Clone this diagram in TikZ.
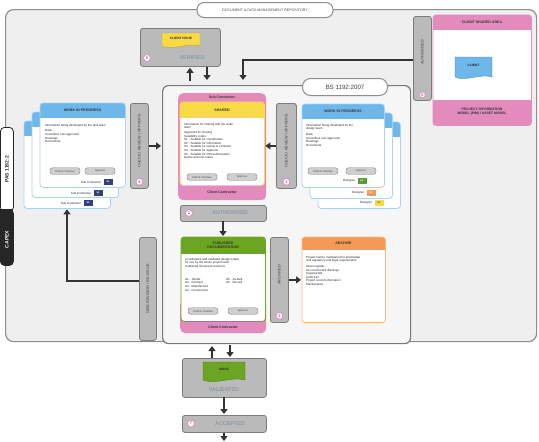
\documentclass[tikz,border=0pt]{standalone}
\usepackage{fontspec}
\setmainfont{Liberation Sans}
\usetikzlibrary{arrows.meta,calc}

\definecolor{bgrey}{HTML}{EFEFEF}
\definecolor{edge}{HTML}{8E8E8E}
\definecolor{pinkh}{HTML}{E48BBE}
\definecolor{yellowh}{HTML}{F7DA45}
\definecolor{blueh}{HTML}{6DB7EA}
\definecolor{bluel}{HTML}{A9D3F2}
\definecolor{greenh}{HTML}{6CA424}
\definecolor{orangeh}{HTML}{F59A55}
\definecolor{barfill}{HTML}{BABABA}
\definecolor{bardraw}{HTML}{7C7C7C}
\definecolor{arrowc}{HTML}{333333}
\definecolor{navy}{HTML}{34407C}
\definecolor{gatetext}{HTML}{8C98A4}

% card: name, x, y, width, height, border colour, header colour, header height
\newcommand\card[8]{%
  \node[anchor=north west, minimum width=#4pt, minimum height=#5pt, fill=white,
        rounded corners=3pt, inner sep=0pt] (#1) at (#2,#3) {};
  \begin{scope}
    \clip[rounded corners=3pt] (#1.north west) rectangle (#1.south east);
    \fill[#7] (#1.north west) rectangle ($(#1.north east)+(0,#8)$);
  \end{scope}
  \draw[#6, line width=0.8pt, rounded corners=3pt] (#1.north west) rectangle (#1.south east);}

% document tag with a wavy lower edge: x, y, width, height, colour, text
\newcommand\doctag[6]{%
  \fill[#5, draw=#5!75!black, line width=0.4pt] (#1,#2) -- ++(#3,0) -- ++(0,#4)
    .. controls +(-#3*0.3,-4) and +(#3*0.3,5) .. ++(-#3,0) -- cycle;
  \node[tiny, font=\fontsize{3.2}{3.2}\selectfont\bfseries] at ({#1+#3/2},{#2+#4*0.4}) {#6};}

\begin{document}
\begin{tikzpicture}[x=1pt, y=-1pt,
  tiny/.style={font=\fontsize{3}{3.6}\selectfont, text=black!85, inner sep=0pt},
  hdr/.style={font=\fontsize{3.6}{4.2}\selectfont\bfseries, text=black!80, inner sep=0pt, align=center},
  bar/.style={draw=bardraw, fill=barfill, rounded corners=2.5pt, line width=0.8pt, inner sep=0pt},
  bartext/.style={font=\fontsize{3.8}{4}\selectfont\bfseries, text=black!60, rotate=90, inner sep=0pt},
  bigtext/.style={font=\fontsize{5.4}{6}\selectfont\bfseries, text=gatetext, inner sep=0pt},
  btn/.style={draw=bardraw, fill=barfill!70, rounded corners=2.5pt, minimum width=30pt,
              minimum height=6.5pt, inner sep=0pt, font=\fontsize{2.8}{3}\selectfont, text=black!70},
  num/.style={circle, draw=pinkh, fill=white, line width=0.8pt, minimum size=7pt, inner sep=0pt,
              font=\fontsize{4}{4}\selectfont\bfseries, text=pinkh!70!black},
  chip/.style={minimum width=9pt, minimum height=5.5pt, inner sep=0pt,
               font=\fontsize{2.4}{3}\selectfont\bfseries, text=white},
  flow/.style={draw=arrowc, line width=2.6pt, -{Triangle[length=5pt,width=7pt]}, shorten >=1pt}]
\useasboundingbox (0,0) rectangle (539,442);

% repository frame and its title
\node[draw=edge, fill=bgrey, rounded corners=8pt, line width=1.2pt, anchor=north west,
      minimum width=531pt, minimum height=332pt, inner sep=0pt] (repo) at (5,9) {};
\node[draw=edge, fill=white, rounded corners=7pt, line width=1pt, minimum width=136pt,
      minimum height=15pt, inner sep=0pt, font=\fontsize{3.6}{4}\selectfont, text=black!70]
      (title) at (265,10) {DOCUMENT \& DATA MANAGEMENT REPOSITORY};

% side label
\node[anchor=north west, fill=white, draw=black!85, rounded corners=4pt, line width=0.8pt,
      minimum width=13pt, minimum height=84pt, inner sep=0pt] (pas) at (0,127) {};
\node[anchor=north west, fill=black!85, draw=black!85, rounded corners=4pt, line width=0.8pt,
      minimum width=13pt, minimum height=56pt, inner sep=0pt] (capex) at (0,209) {};
\fill[black!85] (0,209) rectangle (13,214);
\node[rotate=90, font=\fontsize{5}{5}\selectfont\bfseries, text=black!85] at (pas.center) {PAS 1192:2};
\node[rotate=90, font=\fontsize{5}{5}\selectfont\bfseries, text=white] at ($(capex.center)+(0,2)$) {CAPEX};

% BS 1192 area
\node[draw=edge!85!black, fill=bgrey!55!white, rounded corners=6pt, line width=1.2pt, anchor=north west,
      minimum width=248pt, minimum height=258pt, inner sep=0pt] (bs) at (162,85) {};
\node[draw=edge, fill=white, rounded corners=8pt, line width=1pt, minimum width=85pt,
      minimum height=17pt, inner sep=0pt, font=\fontsize{6.2}{6.2}\selectfont, text=black!75]
      (bslabel) at (345,87) {BS 1192:2007};

% verified gate
\node[bar, anchor=north west, minimum width=80pt, minimum height=38pt] (verified) at (140,28) {};
\doctag{162}{33}{38}{13}{yellowh}{CLIENT ISSUE}
\node[bigtext] at (192,58) {VERIFIED};
\node[num] at (147,58) {5};

% client shared area
\node[bar, anchor=north west, minimum width=18pt, minimum height=84pt] (rauth) at (413,16) {};
\node[bartext] at ($(rauth.center)+(0,-6)$) {AUTHORISED};
\node[num, minimum size=6pt] at ($(rauth.south)+(0,-6)$) {6};
\card{client}{433}{15}{98}{110}{pinkh}{pinkh}{15}
\begin{scope}
  \clip[rounded corners=3pt] (client.north west) rectangle (client.south east);
  \fill[pinkh] (433,100) rectangle (531,126);
\end{scope}
\node[hdr] at (482,22) {CLIENT SHARED AREA};
\node[hdr, font=\fontsize{3.4}{4}\selectfont\bfseries] at (482,112) {PROJECT INFORMATION\\MODEL (PIM) / ASSET MODEL};
\doctag{455}{57}{37}{20}{blueh}{CLIENT}

% work in progress, left team
\card{wipLc}{24}{121}{86}{87}{bluel}{blueh}{15}
\card{wipLb}{32}{112}{86}{85}{bluel}{blueh}{15}
\card{wipLa}{40}{103}{85}{84}{bluel}{blueh}{15}
\node[hdr] at (82.5,110.5) {WORK IN PROGRESS};
\node[tiny, anchor=north west, align=left] at (45,124) {Information being developed by the task team\\[2pt]Data:\\Unverified, non-approved\\Drawings\\Documents};
\node[btn] at (65,171) {Check / Review};
\node[btn] at (100,171) {Approve};
\node[chip, fill=navy] (sc1) at (108,182) {S1};
\node[tiny, anchor=east] at ($(sc1.west)+(-2,0)$) {Sub Contractor};
\node[chip, fill=navy] (sc2) at (98,193) {S2};
\node[tiny, anchor=east] at ($(sc2.west)+(-2,0)$) {Sub Contractor};
\node[chip, fill=navy] (sc3) at (88,203) {S3};
\node[tiny, anchor=east] at ($(sc3.west)+(-2,0)$) {Sub Contractor};

\node[bar, anchor=north west, minimum width=18pt, minimum height=85pt] (lbar) at (130,103) {};
\node[bartext] at ($(lbar.center)+(0,-5)$) {CHECK / REVIEW / APPROVE};
\node[num] at ($(lbar.south)+(0,-7)$) {4};

% shared
\node[anchor=north west, fill=pinkh, rounded corners=5pt, minimum width=88pt, minimum height=107pt,
      inner sep=0pt] (sharedbg) at (178,93) {};
\card{shared}{180}{102}{84}{83}{yellowh}{yellowh}{16}
\node[hdr] at (222,97.5) {Sub Contractor};
\node[hdr] at (222,110) {SHARED};
\node[hdr] at (222,192.5) {Client Contractor};
\node[tiny, anchor=north west, align=left] at (184,123) {Information for sharing with the wider\\team\\[1pt]Approved for sharing\\Suitability codes:\\S1 - Suitable for coordination\\S2 - Suitable for information\\S3 - Suitable for review \& comment\\S4 - Suitable for approval\\S5 - Suitable for PIM authorization\\Native and non-native};
\node[btn] at (202,177) {Check / Review};
\node[btn] at (242,177) {Approve};

\node[bar, anchor=north west, minimum width=20pt, minimum height=85pt] (mbar) at (276,103) {};
\node[bartext] at ($(mbar.center)+(0,-5)$) {CHECK / REVIEW / APPROVE};
\node[num] at ($(mbar.south)+(0,-7)$) {1};

% work in progress, right team
\card{wipRc}{318}{122}{82}{86}{bluel}{blueh}{15}
\card{wipRb}{310}{113}{82}{85}{bluel}{blueh}{15}
\card{wipRa}{302}{104}{82}{83}{bluel}{blueh}{15}
\node[hdr] at (343,111.5) {WORK IN PROGRESS};
\node[tiny, anchor=north west, align=left] at (306,124) {Information being developed by the\\design team\\[2pt]Data:\\Unverified, non-approved\\Drawings\\Documents};
\node[btn] at (323,171) {Check / Review};
\node[btn] at (361,171) {Approve};
\node[chip, fill=greenh!80!teal] (d1) at (362,181) {D1};
\node[tiny, anchor=east] at ($(d1.west)+(-2,0)$) {Designer};
\node[chip, fill=orangeh] (d2) at (371,193) {D2};
\node[tiny, anchor=east] at ($(d2.west)+(-2,0)$) {Designer};
\node[chip, fill=yellowh, text=black!70] (d3) at (379,203) {D3};
\node[tiny, anchor=east] at ($(d3.west)+(-2,0)$) {Designer};

% authorised gate
\node[bar, anchor=north west, minimum width=86pt, minimum height=16pt] (auth) at (180,205) {};
\node[bigtext] at (230,213) {AUTHORISED};
\node[num] at (189,213) {2};

% published documentation
\node[anchor=north west, fill=pinkh, rounded corners=5pt, minimum width=86pt, minimum height=33pt,
      inner sep=0pt] (pubbg) at (180,300) {};
\card{pub}{181}{237}{84}{84}{greenh}{greenh}{17}
\node[hdr] at (223,245.5) {PUBLISHED\\DOCUMENTATION};
\node[hdr] at (223,327) {Client Contractor};
\node[tiny, anchor=north west, align=left] at (185,258) {Coordinated and validated design output\\for use by the whole project team\\Published document revisions};
\node[tiny, anchor=north west, align=left] at (185,278) {A1 - Tender\\A2 - Contract\\A3 - Manufacture\\A4 - Construction};
\node[tiny, anchor=north west, align=left] at (226,278) {A5 - As-built\\A6 - Record};
\node[btn] at (203,311) {Check / Review};
\node[btn] at (243,311) {Approve};

\node[bar, anchor=north west, minimum width=18pt, minimum height=85pt] (pbar) at (270,237) {};
\node[bartext] at ($(pbar.center)+(0,-5)$) {ARCHIVED};
\node[num] at ($(pbar.south)+(0,-7)$) {3};

% archive
\card{arch}{302}{237}{83}{85}{orangeh!70}{orangeh}{13}
\node[hdr] at (343.5,243.5) {ARCHIVE};
\node[tiny, anchor=north west, align=left] at (306,256) {Project history maintained for knowledge\\and regulatory and legal requirements\\[2pt]Asset register\\As-constructed drawings\\Superseded\\Audit trail\\Project record information\\Maintenance};

% revision loop bar
\node[bar, anchor=north west, minimum width=17pt, minimum height=103pt] (longbar) at (139,237) {};
\node[bartext] at (longbar.center) {NEW REVISION / RE-ISSUE};

% validated and accepted gates
\node[bar, anchor=north west, minimum width=84pt, minimum height=39pt] (valid) at (182,358) {};
\doctag{203}{362}{42}{18}{greenh}{ISSUE}
\node[bigtext] at (224,390) {VALIDATED};
\node[bar, anchor=north west, minimum width=84pt, minimum height=17pt] (accept) at (182,415) {};
\node[bigtext] at (230,423.5) {ACCEPTED};
\node[num] at (191,423.5) {7};

% flows
\coordinate (vu) at (190,81);
\draw[flow] (vu) -- (vu |- verified.south);
\coordinate (vd) at (207,81);
\draw[flow] (vd |- verified.south) -- (vd);
\coordinate (aturn) at (243,60);
\coordinate (ad) at (243,81);
\draw[flow] (aturn -| rauth.west) -- (aturn) -- (ad);
\draw[flow] (lbar.east) -- (lbar.east -| bs.west);
\draw[flow] (mbar.west) -- (mbar.west -| shared.east);
\coordinate (ac) at (223,221);
\draw[flow] (ac) -- (ac |- pub.north);
\draw[flow] (pbar.east) -- (pbar.east -| arch.west);
\coordinate (lturn) at (67,281);
\draw[flow] (lturn -| longbar.west) -- (lturn) -- (lturn |- wipLc.south);
\coordinate (bu) at (212,345);
\draw[flow] (bu |- valid.north) -- (bu);
\coordinate (bd) at (230,345);
\draw[flow] (bd) -- (bd |- valid.north);
\coordinate (vc) at (224,397);
\draw[flow] (vc) -- (vc |- accept.north);
\coordinate (out) at (224,442);
\draw[flow] (out |- accept.south) -- (out);
\end{tikzpicture}
\end{document}
